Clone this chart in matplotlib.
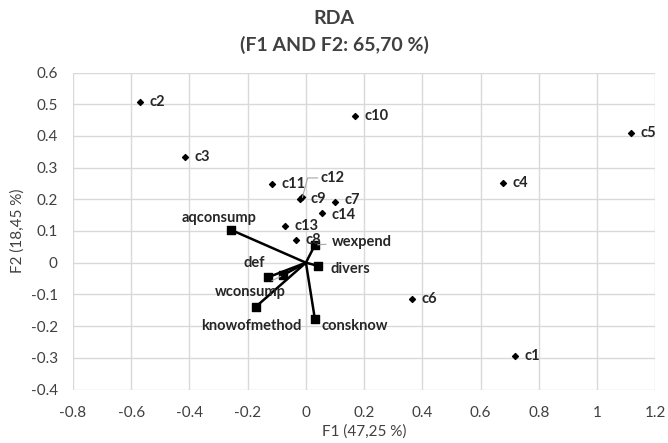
import matplotlib
matplotlib.use("Agg")
import matplotlib.pyplot as plt

plt.rcParams['font.family'] = ['Lato', 'DejaVu Sans']

# Observations (sites)
obs_names = ["c1", "c2", "c3", "c4", "c5", "c6", "c7", "c8", "c9", "c10", "c11", "c12", "c13", "c14"]
obs_f1 = [0.719, -0.571, -0.416, 0.677, 1.116, 0.365, 0.099, -0.035, -0.019, 0.168, -0.118, -0.012, -0.073, 0.055]
obs_f2 = [-0.294, 0.507, 0.333, 0.252, 0.408, -0.114, 0.191, 0.072, 0.201, 0.463, 0.248, 0.206, 0.116, 0.156]

# Variables (vectors)
var_names = ["aqconsump", "wexpend", "divers", "def", "wconsump", "knowofmethod", "consknow"]
var_f1 = [-0.256, 0.031, 0.042, -0.130, -0.078, -0.172, 0.031]
var_f2 = [0.103, 0.056, -0.010, -0.046, -0.039, -0.139, -0.179]

x_ticks = [-0.8, -0.6, -0.4, -0.2, 0, 0.2, 0.4, 0.6, 0.8, 1, 1.2]
y_ticks = [-0.4, -0.3, -0.2, -0.1, 0, 0.1, 0.2, 0.3, 0.4, 0.5, 0.6]

fig = plt.figure(figsize=(6.68, 4.43), dpi=100)
ax = fig.add_axes([73/668, 1-389.5/443, (655.3-73)/668, (389.5-72.5)/443])

ax.set_xlim(-0.8, 1.2)
ax.set_ylim(-0.4, 0.6)
ax.set_xticks(x_ticks)
ax.set_yticks(y_ticks)
ax.set_xticklabels([f"{v:g}" for v in x_ticks])
ax.set_yticklabels([f"{v:g}" for v in y_ticks])
ax.grid(True, color="#d9d9d9", linewidth=1.0)
ax.set_axisbelow(True)
for s in ax.spines.values():
    s.set_visible(False)
ax.tick_params(length=0, labelsize=11, colors="#404040")
ax.tick_params(axis="x", pad=12)
ax.tick_params(axis="y", pad=11)

# vectors
for n, x, y in zip(var_names, var_f1, var_f2):
    ax.plot([0, x], [0, y], color="black", linewidth=1.8, zorder=3)
ax.scatter(var_f1, var_f2, marker="s", s=40, color="black", zorder=4)

# observations
ax.scatter(obs_f1, obs_f2, marker="D", s=9, color="black", zorder=4)

lab_kw = dict(fontsize=10.5, fontweight="bold", color="#262626", va="center", zorder=5)

obs_dy = {"c7": 1.5, "c14": -1.5}
for n, x, y in zip(obs_names, obs_f1, obs_f2):
    if n == "c12":
        ax.annotate(n, (x, y), xytext=(13, 14), textcoords="offset points",
                    ha="left", arrowprops=dict(arrowstyle="-", color="#a6a6a6", lw=0.8,
                                               shrinkA=0, shrinkB=0,
                                               connectionstyle="angle,angleA=0,angleB=75,rad=0"),
                    **lab_kw)
    else:
        ax.annotate(n, (x, y), xytext=(7, obs_dy.get(n, 0)), textcoords="offset points",
                    ha="left", **lab_kw)

var_off = {
    "aqconsump": ((-9, 9), "center", False),
    "wexpend": ((12, 2), "left", True),
    "divers": ((9, -2), "left", False),
    "def": ((-10, 10), "center", False),
    "wconsump": ((-24, -12), "center", True),
    "knowofmethod": ((-3, -14), "center", False),
    "consknow": ((5, -5), "left", False),
}
for n, x, y in zip(var_names, var_f1, var_f2):
    off, ha, leader = var_off[n]
    ap = None
    if leader:
        ap = dict(arrowstyle="-", color="#a6a6a6", lw=0.8, shrinkA=2, shrinkB=2)
    ax.annotate(n, (x, y), xytext=off, textcoords="offset points", ha=ha,
                arrowprops=ap, **lab_kw)

ax.set_xlabel("F1 (47,25 %)", fontsize=11, color="#404040", labelpad=3)
ax.set_ylabel("F2 (18,45 %)", fontsize=11, color="#404040", labelpad=4)
fig.text(0.5, 1-19/443, "RDA", ha="center", va="center", fontsize=14, fontweight="bold", color="#404040")
fig.text(0.5, 1-45/443, "(F1 AND F2: 65,70 %)", ha="center", va="center", fontsize=14, fontweight="bold", color="#404040")

fig.savefig("out.png", dpi=100)
